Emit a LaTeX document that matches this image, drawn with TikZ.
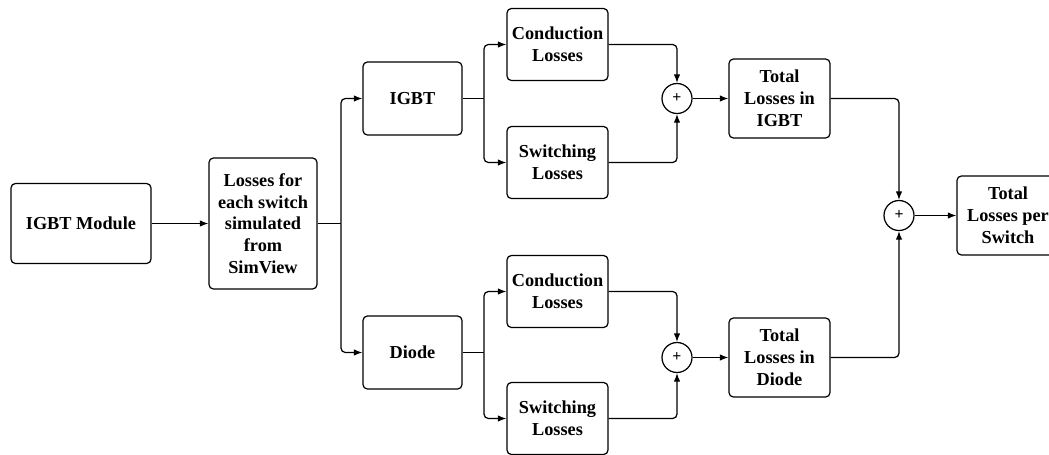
\documentclass[tikz,border=0pt]{standalone}
\usepackage{fontspec}
\setmainfont{Liberation Serif}
\usepackage{tikz}
\usetikzlibrary{arrows.meta}

\tikzset{
    blk/.style={draw, line width=0.7pt, rounded corners=2.5pt, align=center, inner sep=1pt,
        font=\fontsize{10.4}{12.4}\selectfont\bfseries},
    sumnode/.style={draw, line width=0.7pt, circle, minimum size=0.6cm, inner sep=0pt,
        font=\small\bfseries},
    flow/.style={line width=0.7pt, rounded corners=2.5pt, -{Latex[length=1.7mm, width=1.3mm]}},
    wire/.style={line width=0.7pt, rounded corners=2.5pt}
}

\begin{document}
\begin{tikzpicture}[x=0.02cm, y=-0.02cm]
            \def\bw{2.02cm}
            \def\bh{1.44cm}
            \useasboundingbox (0,0) rectangle (1049,454);
            \node[blk, minimum width=2.8cm, minimum height=1.6cm] (mod) at (81,223.5) {IGBT Module};
            \node[blk, minimum width=2.16cm, minimum height=2.62cm] (sim) at (263,223.5) {Losses for\\each switch\\simulated\\from\\SimView};
            \node[blk, minimum width=1.98cm, minimum height=1.46cm] (igbt) at (412.5,98.5) {IGBT};
            \node[blk, minimum width=1.98cm, minimum height=1.46cm] (dio) at (412.5,352.5) {Diode};
            \node[blk, minimum width=\bw, minimum height=\bh] (condA) at (557.5,44.5) {Conduction\\Losses};
            \node[blk, minimum width=\bw, minimum height=\bh] (swA) at (557.5,162.5) {Switching\\Losses};
            \node[blk, minimum width=\bw, minimum height=\bh] (condB) at (557.5,291.5) {Conduction\\Losses};
            \node[blk, minimum width=\bw, minimum height=\bh] (swB) at (557.5,418.5) {Switching\\Losses};
            \node[sumnode] (sumA) at (677,98.5) {+};
            \node[sumnode] (sumB) at (677,357.5) {+};
            \node[blk, minimum width=\bw, minimum height=1.58cm] (totA) at (779.5,98.5) {Total\\Losses in\\IGBT};
            \node[blk, minimum width=\bw, minimum height=1.58cm] (totB) at (779.5,357.5) {Total\\Losses in\\Diode};
            \node[sumnode] (sumT) at (899,215.5) {+};
            \node[blk, minimum width=2.04cm, minimum height=1.58cm] (tot) at (1008,215.5) {Total\\Losses per\\Switch};
            \coordinate (br) at (341,223.5);
            \coordinate (brA) at (484,98.5);
            \coordinate (brB) at (484,352.5);
            \draw[flow] (mod) -- (sim);
            \draw[wire] (sim.east) -- (br);
            \draw[flow] (br) |- (igbt.west);
            \draw[flow] (br) |- (dio.west);
            \draw[wire] (igbt.east) -- (brA);
            \draw[flow] (brA) |- (condA.west);
            \draw[flow] (brA) |- (swA.west);
            \draw[wire] (dio.east) -- (brB);
            \draw[flow] (brB) |- (condB.west);
            \draw[flow] (brB) |- (swB.west);
            \draw[flow] (condA.east) -| (sumA.north);
            \draw[flow] (swA.east) -| (sumA.south);
            \draw[flow] (condB.east) -| (sumB.north);
            \draw[flow] (swB.east) -| (sumB.south);
            \draw[flow] (sumA) -- (totA);
            \draw[flow] (sumB) -- (totB);
            \draw[flow] (totA.east) -| (sumT.north);
            \draw[flow] (totB.east) -| (sumT.south);
            \draw[flow] (sumT) -- (tot);
        \end{tikzpicture}
\end{document}
